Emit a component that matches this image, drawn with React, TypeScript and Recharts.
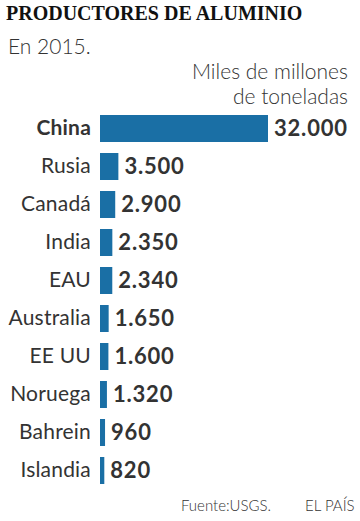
import React from 'react';
import { BarChart, Bar, XAxis, YAxis, LabelList } from 'recharts';

const countries = ['China', 'Rusia', 'Canadá', 'India', 'EAU', 'Australia', 'EE UU', 'Noruega', 'Bahrein', 'Islandia'];
const production = [32000, 3500, 2900, 2350, 2340, 1650, 1600, 1320, 960, 820];

const data = countries.map((name, i) => ({ name, value: production[i] }));

const sans = 'Lato, "Open Sans", sans-serif';

const fmt = (v: number) => v.toLocaleString('de-DE');

const CountryTick = ({ x, y, payload }: any) => (
  <text
    x={x}
    y={y}
    dy={7}
    textAnchor="end"
    fill="#333"
    fontSize={21}
    letterSpacing={0.2}
    fontFamily={sans}
    fontWeight={payload.value === 'China' ? 700 : 400}
  >
    {payload.value}
  </text>
);

export default function App() {
  return (
    <div style={{ position: 'absolute', left: 0, top: 0, width: 360, height: 521, background: '#fff', fontFamily: sans, color: '#333' }}>
      <div style={{ position: 'absolute', left: 6, top: 2, fontFamily: '"Liberation Serif", serif', fontWeight: 700, fontSize: 20, color: '#111', whiteSpace: 'nowrap' }}>
        PRODUCTORES DE ALUMINIO
      </div>
      <div style={{ position: 'absolute', left: 8, top: 33, fontSize: 21, fontWeight: 300, color: '#333' }}>
        En 2015.
      </div>
      <div style={{ position: 'absolute', right: 12, top: 58, fontSize: 21, fontWeight: 300, lineHeight: '25px', textAlign: 'right', color: '#333' }}>
        Miles de millones<br />de toneladas
      </div>

      <div style={{ position: 'absolute', left: 0, top: 0 }}>
        <BarChart
          width={360}
          height={521}
          data={data}
          layout="vertical"
          margin={{ top: 109, right: 92, bottom: 32, left: 0 }}
        >
          <XAxis type="number" domain={[0, 32000]} hide />
          <YAxis
            type="category"
            dataKey="name"
            width={100}
            axisLine={false}
            tickLine={false}
            tickSize={0}
            tickMargin={9}
            interval={0}
            tick={<CountryTick />}
          />
          <Bar dataKey="value" fill="#1a6fa5" barSize={27} isAnimationActive={false}>
            <LabelList
              dataKey="value"
              position="right"
              offset={6}
              formatter={(v: any) => fmt(Number(v))}
              style={{ fill: '#333', fontSize: 22, fontWeight: 700, fontFamily: sans, letterSpacing: 0.8 }}
            />
          </Bar>
        </BarChart>
      </div>

      <div style={{ position: 'absolute', left: 181, top: 496, fontSize: 15, fontWeight: 300, color: '#333' }}>
        Fuente:USGS.
      </div>
      <div style={{ position: 'absolute', left: 305, top: 496, fontSize: 15, fontWeight: 300, color: '#333' }}>
        EL PAÍS
      </div>
    </div>
  );
}
